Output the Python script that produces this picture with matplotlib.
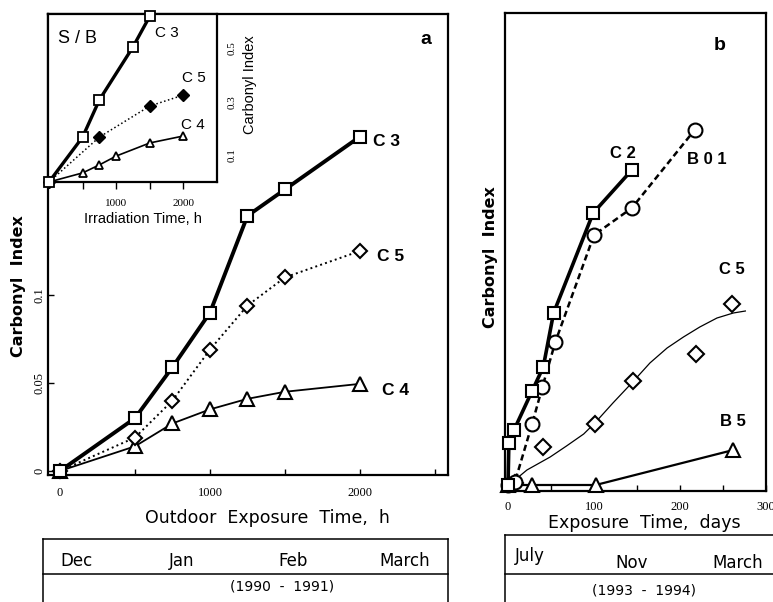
"""
Carbonyl index vs. exposure time: (a) outdoor 1990-91 with S/B inset, (b) outdoor 1993-94.
"""

import matplotlib

matplotlib.use("Agg")
import matplotlib.pyplot as plt
from matplotlib.lines import Line2D

# panel a, outdoor exposure (h)
A_HOURS = [0, 500, 750, 1000, 1250, 1500, 2000]
A_C3 = [0, 0.030, 0.059, 0.090, 0.145, 0.160, 0.190]
A_C5 = [0, 0.019, 0.040, 0.069, 0.094, 0.110, 0.125]
A_C4 = [0, 0.014, 0.027, 0.035, 0.041, 0.045, 0.0495]

# inset, S/B irradiation (h)
IN_C3_H = [0, 500, 750, 1250, 1500]
IN_C3 = [0, 0.168, 0.307, 0.505, 0.620]
IN_C5_H = [0, 750, 1500, 2000]
IN_C5 = [0, 0.168, 0.284, 0.325]
IN_C4_H = [0, 500, 750, 1000, 1500, 2000]
IN_C4 = [0, 0.034, 0.064, 0.097, 0.146, 0.172]

# panel b, exposure time (days), arbitrary index scale
B_C2_D = [0, 1, 7, 28, 41, 53, 99, 144]
B_C2 = [0, 0.042, 0.055, 0.094, 0.118, 0.172, 0.272, 0.315]
B_B01_D = [0, 8, 28, 40, 55, 100, 144, 217]
B_B01 = [0, 0.003, 0.061, 0.098, 0.143, 0.250, 0.277, 0.355]
B_C5_D = [8, 41, 101, 145, 219, 260]
B_C5 = [0.002, 0.038, 0.061, 0.104, 0.131, 0.181]
# fitted curve through C5
B_C5_FIT_D = [8, 22, 49, 68, 88, 101, 122, 145, 165, 185, 204, 223, 243, 262, 276]
B_C5_FIT = [0.005, 0.015, 0.028, 0.039, 0.051, 0.062, 0.082, 0.103, 0.122,
            0.137, 0.148, 0.158, 0.167, 0.172, 0.174]
B_B5_D = [0, 28, 102, 262]
B_B5 = [0, 0, 0, 0.035]

MONTHS_A = ["Dec", "Jan", "Feb", "March"]
MONTHS_B = ["July", "Nov", "March"]
YEARS_A = "(1990  -  1991)"
YEARS_B = "(1993  -  1994)"

W, H = 773, 602
SANS = "Liberation Sans"
WIDE = "DejaVu Sans"
SERIF = "Liberation Serif"


def box(left, top, right, bottom):
    # pixel box -> figure fraction rect
    return [left / W, 1 - bottom / H, (right - left) / W, (bottom - top) / H]


def open_marker(ax, x, y, marker, ms, ls="-", lw=1.2, **kw):
    ax.plot(x, y, ls=ls, lw=lw, color="black", marker=marker, ms=ms,
            mfc="white", mec="black", mew=1.5, clip_on=False, **kw)


def style_spines(ax, lw=1.6):
    for s in ax.spines.values():
        s.set_linewidth(lw)


def main() -> None:
    fig = plt.figure(figsize=(W / 100, H / 100), dpi=100)

    # ---------- panel a ----------
    ax = fig.add_axes(box(48, 14, 448, 475))
    open_marker(ax, A_HOURS, A_C4, "^", 10, lw=1.3, zorder=3)
    open_marker(ax, A_HOURS, A_C5, "D", 7.5, ls=":", lw=1.4, zorder=4)
    open_marker(ax, A_HOURS, A_C3, "s", 9, lw=2.8, zorder=5)
    ax.set_xlim(-80, 2587)
    ax.set_ylim(-0.0023, 0.2597)
    ax.set_xticks([0, 1000, 2000])
    ax.set_xticks([500, 1500, 2500], minor=True)
    ax.set_yticks([0, 0.05, 0.1])
    ax.set_yticklabels(["0", "0.05", "0.1"])
    ax.tick_params(which="both", direction="in", length=4, width=1)
    ax.tick_params(axis="x", pad=9)
    ax.tick_params(axis="y", rotation=90, pad=2)
    for t in ax.get_xticklabels() + ax.get_yticklabels():
        t.set_fontfamily(SERIF)
        t.set_fontsize(9)
    for t in ax.get_yticklabels():
        t.set_va("center")
    style_spines(ax)
    ax.set_ylabel("Carbonyl  Index", fontfamily=WIDE, fontsize=11.5, fontweight="bold")
    ax.yaxis.set_label_coords(-0.055, 0.41)
    ax.set_xlabel("Outdoor  Exposure  Time,  h", fontfamily=WIDE, fontsize=12.5)
    ax.xaxis.set_label_coords(0.548, -0.074)
    lab = dict(fontfamily=SANS, fontsize=12.5, fontweight="bold", va="center", ha="left")
    ax.text(2085, 0.187, "C 3", **lab)
    ax.text(2115, 0.1216, "C 5", **lab)
    ax.text(2145, 0.046, "C 4", **lab)
    ax.text(2400, 0.245, "a", fontfamily=SANS, fontsize=14, fontweight="bold", va="center")

    # ---------- inset ----------
    ins = fig.add_axes(box(48, 14, 217, 182))
    ins.set_facecolor("white")
    ins.plot(IN_C4_H, IN_C4, "-", color="black", lw=1.2, marker="^", ms=6,
             mfc="white", mec="black", mew=1.3, clip_on=False)
    ins.plot(IN_C5_H, IN_C5, ":", color="black", lw=1.1, marker="D", ms=6,
             mfc="black", mec="black", clip_on=False)
    ins.plot(IN_C3_H, IN_C3, "-", color="black", lw=2.4, marker="s", ms=7,
             mfc="white", mec="black", mew=1.3, clip_on=False, zorder=5)
    ins.set_xlim(-15, 2500)
    ins.set_ylim(0, 0.628)
    ins.set_xticks([1000, 2000])
    ins.set_xticklabels(["1000", "2000"])
    ins.set_xticks([500, 1500], minor=True)
    ins.tick_params(axis="x", which="both", direction="out", length=5, width=1, pad=7)
    ins.yaxis.tick_right()
    ins.set_yticks([0.1, 0.3, 0.5])
    ins.set_yticklabels(["0.1", "0.3", "0.5"])
    ins.tick_params(axis="y", length=0, pad=8, rotation=90)
    for t in ins.get_xticklabels() + ins.get_yticklabels():
        t.set_fontfamily(SERIF)
        t.set_fontsize(8)
    for t in ins.get_yticklabels():
        t.set_va("center")
    style_spines(ins)
    ins.set_xlabel("Irradiation Time, h", fontfamily=SANS, fontsize=10.5)
    ins.xaxis.set_label_coords(0.56, -0.18)
    ins.set_ylabel("Carbonyl Index", fontfamily=SANS, fontsize=10.5)
    ins.yaxis.set_label_position("right")
    ins.yaxis.set_label_coords(1.155, 0.58)
    ilab = dict(fontfamily=SANS, fontsize=11, va="center", ha="left")
    ins.text(134, 0.538, "S / B", fontfamily=SANS, fontsize=13, va="center")
    ins.text(1582, 0.557, "C 3", **ilab)
    ins.text(1980, 0.389, "C 5", **ilab)
    ins.text(1960, 0.213, "C 4", **ilab)

    # ---------- panel b ----------
    bx = fig.add_axes(box(505, 13, 766, 491))
    bx.plot(B_C5_FIT_D, B_C5_FIT, "-", color="black", lw=0.9)
    open_marker(bx, B_C5_D, B_C5, "D", 8, ls="none", zorder=4)
    open_marker(bx, B_B5_D, B_B5, "^", 10, lw=1.6, zorder=3)
    open_marker(bx, B_B01_D, B_B01, "o", 10, ls=(0, (2.5, 1.5)), lw=1.8, zorder=4)
    open_marker(bx, B_C2_D, B_C2, "s", 8.5, lw=2.6, zorder=5)
    bx.set_xlim(-3.5, 300)
    bx.set_ylim(-0.006, 0.472)
    bx.set_xticks([0, 100, 200, 300])
    bx.set_xticklabels(["0", "100", "200", "300"])
    bx.set_xticks([50, 150, 250], minor=True)
    bx.set_yticks([])
    bx.tick_params(which="both", direction="in", length=4, width=1)
    bx.tick_params(axis="x", pad=7)
    for t in bx.get_xticklabels():
        t.set_fontfamily(SERIF)
        t.set_fontsize(9)
    style_spines(bx)
    bx.set_ylabel("Carbonyl  Index", fontfamily=WIDE, fontsize=11.5, fontweight="bold")
    bx.yaxis.set_label_coords(-0.028, 0.49)
    bx.set_xlabel("Exposure  Time,  days", fontfamily=WIDE, fontsize=12.5)
    bx.xaxis.set_label_coords(0.535, -0.048)
    blab = dict(fontfamily=SANS, fontsize=12, fontweight="bold", va="center", ha="center")
    bx.text(133, 0.332, "C 2", **blab)
    bx.text(231, 0.325, "B 0 1", **blab)
    bx.text(260, 0.215, "C 5", **blab)
    bx.text(262, 0.063, "B 5", **blab)
    bx.text(246, 0.440, "b", fontfamily=SANS, fontsize=14, fontweight="bold", va="center", ha="center")

    # ---------- month tables ----------
    def px(x, y):
        return x / W, 1 - y / H

    def seg(x0, y0, x1, y1):
        fig.add_artist(Line2D([x0 / W, x1 / W], [1 - y0 / H, 1 - y1 / H],
                              color="black", lw=1.1, transform=fig.transFigure))

    seg(43, 539, 448, 539)
    seg(43, 574, 448, 574)
    seg(43, 539, 43, 602)
    seg(448, 539, 448, 602)
    tab = dict(fontfamily=WIDE, fontsize=12, ha="center", va="center")
    for name, x in zip(MONTHS_A, [77, 182, 293, 405]):
        fig.text(*px(x, 561), name, **tab)
    fig.text(*px(282, 587), YEARS_A, fontfamily=WIDE, fontsize=10, ha="center", va="center")

    seg(505, 535, 773, 535)
    seg(505, 574, 773, 574)
    seg(505, 535, 505, 602)
    for name, x, y in zip(MONTHS_B, [530, 632, 738], [556, 563, 563]):
        fig.text(*px(x, y), name, **tab)
    fig.text(*px(644, 590), YEARS_B, fontfamily=WIDE, fontsize=10, ha="center", va="center")

    fig.savefig("out.png", dpi=100)


if __name__ == "__main__":
    main()
